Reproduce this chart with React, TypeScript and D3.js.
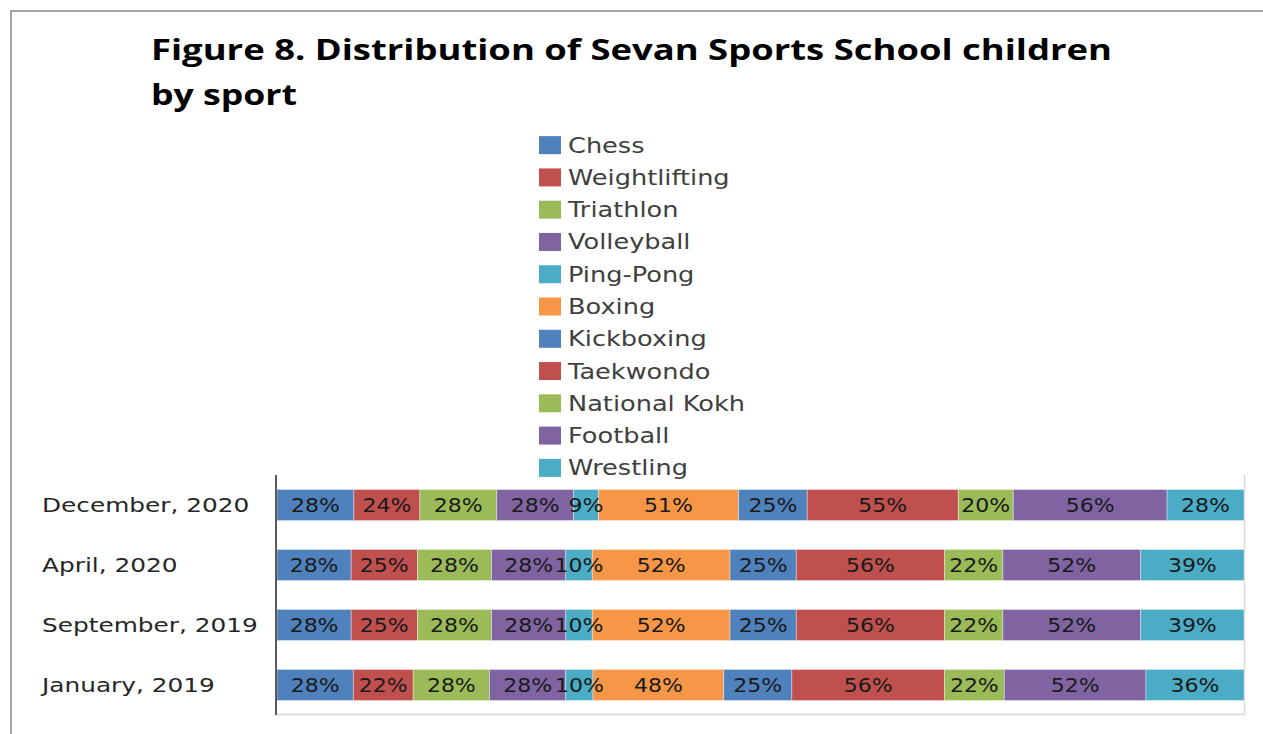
import React from 'react';
import * as d3 from 'd3';

// categories top to bottom
const periods = ['December, 2020', 'April, 2020', 'September, 2019', 'January, 2019'];

const sports = [
  'Chess', 'Weightlifting', 'Triathlon', 'Volleyball', 'Ping-Pong', 'Boxing',
  'Kickboxing', 'Taekwondo', 'National Kokh', 'Football', 'Wrestling',
];

// values per sport, in the order of periods
const chess = [28, 28, 28, 28];
const weightlifting = [24, 25, 25, 22];
const triathlon = [28, 28, 28, 28];
const volleyball = [28, 28, 28, 28];
const pingPong = [9, 10, 10, 10];
const boxing = [51, 52, 52, 48];
const kickboxing = [25, 25, 25, 25];
const taekwondo = [55, 56, 56, 56];
const nationalKokh = [20, 22, 22, 22];
const football = [56, 52, 52, 52];
const wrestling = [28, 39, 39, 36];

const seriesValues = [
  chess, weightlifting, triathlon, volleyball, pingPong, boxing,
  kickboxing, taekwondo, nationalKokh, football, wrestling,
];

const colors = [
  '#4F81BD', '#C0504D', '#9BBB59', '#8064A2', '#4BACC6', '#F79646',
  '#4F81BD', '#C0504D', '#9BBB59', '#8064A2', '#4BACC6',
];

const W = 1263;
const H = 734;
const plot = { left: 277, right: 1244, top: 475, bottom: 715 };
const font = '"DejaVu Sans", sans-serif';
const sx = 1.24; // the picture is stretched sideways
const labelSx = 1.1;

export default function App() {
  const rows = periods.map((p, i) => {
    const row: Record<string, any> = { period: p };
    sports.forEach((s, j) => { row[s] = seriesValues[j][i]; });
    return row;
  });

  const stacked = d3.stack<any>().keys(sports).offset(d3.stackOffsetExpand)(rows);

  const x = d3.scaleLinear().domain([0, 1]).range([plot.left, plot.right]);
  const y = d3.scaleBand<string>()
    .domain(periods)
    .range([plot.top, plot.bottom])
    .paddingInner(0.483)
    .paddingOuter(0.242);

  const legendY = d3.scaleBand<string>().domain(sports).range([129, 484]);

  return (
    <svg width={W} height={H} style={{ position: 'absolute', left: 0, top: 0 }}>
      <rect x={0} y={0} width={W} height={H} fill="#fff" />
      {/* outer frame */}
      <rect x={11} y={11} width={W + 20} height={H + 20} fill="none" stroke="#a6a6a6" strokeWidth={2} />

      {/* title */}
      <text x={151} y={60} fontFamily='"Open Sans", sans-serif' fontWeight="bold" fontSize={28}
        fill="#000" textLength={961} lengthAdjust="spacingAndGlyphs">
        Figure 8. Distribution of Sevan Sports School children
      </text>
      <text x={151} y={105} fontFamily='"Open Sans", sans-serif' fontWeight="bold" fontSize={28}
        fill="#000" textLength={146} lengthAdjust="spacingAndGlyphs">
        by sport
      </text>

      {/* legend */}
      {sports.map((s, i) => {
        const cy = (legendY(s) as number) + legendY.bandwidth() / 2;
        return (
          <g key={s}>
            <rect x={539} y={cy - 9} width={22} height={18} fill={colors[i]} />
            <g transform={`translate(568,${cy + 7.5}) scale(1.22,1)`}>
              <text fontFamily={font} fontSize={21} fill="#404040">{s}</text>
            </g>
          </g>
        );
      })}

      {/* plot area border */}
      <line x1={plot.right + 0.5} x2={plot.right + 0.5} y1={plot.top} y2={plot.bottom} stroke="#d9d9d9" strokeWidth={1.5} />
      <line x1={plot.left - 1} x2={plot.right + 1} y1={plot.bottom - 0.5} y2={plot.bottom - 0.5} stroke="#d9d9d9" strokeWidth={1.5} />

      {/* bars */}
      {stacked.map((layer, j) => (
        <g key={layer.key}>
          {layer.map((d, i) => {
            const x0 = x(d[0]);
            const x1 = x(d[1]);
            const by = y(periods[i]) as number;
            const bh = y.bandwidth();
            return (
              <rect key={i} x={x0} y={by} width={x1 - x0} height={bh} fill={colors[j]}
                stroke="#ffffff" strokeOpacity={0.45} strokeWidth={0.8} />
            );
          })}
        </g>
      ))}

      {/* data labels */}
      {stacked.map((layer, j) => (
        <g key={layer.key}>
          {layer.map((d, i) => {
            const x0 = x(d[0]);
            const x1 = x(d[1]);
            const by = y(periods[i]) as number;
            const bh = y.bandwidth();
            return (
              <g key={i} transform={`translate(${(x0 + x1) / 2},${by + bh / 2 + 7}) scale(${labelSx},1)`}>
                <text textAnchor="middle" fontFamily={font} fontSize={20} fill="#1a1a1a">
                  {seriesValues[j][i]}%
                </text>
              </g>
            );
          })}
        </g>
      ))}

      {/* category axis */}
      <line x1={276} x2={276} y1={plot.top} y2={plot.bottom} stroke="#595959" strokeWidth={2} />
      {periods.map((p) => (
        <g key={p} transform={`translate(42,${(y(p) as number) + y.bandwidth() / 2 + 7}) scale(${sx},1)`}>
          <text fontFamily={font} fontSize={20} fill="#262626">{p}</text>
        </g>
      ))}
    </svg>
  );
}
